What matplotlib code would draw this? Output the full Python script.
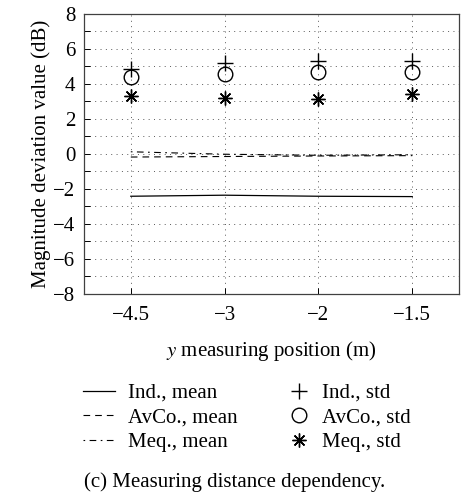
import numpy as np
import matplotlib
matplotlib.use("Agg")
import matplotlib.pyplot as plt

# measuring positions (shown as evenly spaced categories)
pos_labels = ["\u22124.5", "\u22123", "\u22122", "\u22121.5"]
xpos = [1, 2, 3, 4]

ind_mean = [-2.42, -2.36, -2.42, -2.44]
avco_mean = [-0.18, -0.15, -0.12, -0.10]
meq_mean = [0.12, -0.02, -0.08, -0.05]

ind_std = [4.85, 5.17, 5.30, 5.33]
avco_std = [4.40, 4.55, 4.70, 4.70]
meq_std = [3.32, 3.22, 3.13, 3.40]

plt.rcParams['font.family'] = ['Liberation Serif', 'DejaVu Serif']
plt.rcParams['font.size'] = 15
plt.rcParams['axes.unicode_minus'] = True
plt.rcParams['mathtext.fontset'] = 'stix'

fig = plt.figure(figsize=(4.61, 4.94), dpi=100)
ax = fig.add_axes([0.182, 0.405, 0.814, 0.567])

l1, = ax.plot(xpos, ind_mean, color='k', lw=0.9, ls='-')
l2, = ax.plot(xpos, avco_mean, color='k', lw=0.8, ls=(0, (6, 4.5)))
l3, = ax.plot(xpos, meq_mean, color='k', lw=0.8, ls=(0, (1.5, 4, 6, 4)))
m1, = ax.plot(xpos, ind_std, ls='none', marker='+', ms=11, mew=1.0, color='k')
m2, = ax.plot(xpos, avco_std, ls='none', marker='o', ms=10.5, mew=1.0, mfc='none', mec='k')
m3, = ax.plot(xpos, meq_std, ls='none', marker=(8, 2, 0), ms=10, mew=1.0, color='k')

ax.set_xlim(0.5, 4.5)
ax.set_ylim(-8, 8)
ax.set_xticks(xpos)
ax.set_xticklabels(pos_labels)
ax.set_yticks(np.arange(-8, 9, 2))
ax.set_yticks(np.arange(-7, 8, 2), minor=True)
ax.tick_params(which='both', direction='in', length=4, width=0.7)
ax.tick_params(axis='x', pad=9)
ax.tick_params(axis='y', pad=6)
ax.grid(True, which='major', axis='x', color='0.35', ls=(0, (1, 4.5)), lw=0.7)
ax.grid(True, which='both', axis='y', color='0.35', ls=(0, (1, 4.5)), lw=0.7)
for s in ax.spines.values():
    s.set_linewidth(0.9)
    s.set_color('0.25')

ax.set_ylabel('Magnitude deviation value (dB)', labelpad=2)
ax.set_xlabel('$y$ measuring position (m)', labelpad=10)

leg_kw = dict(frameon=False, loc='upper left', handlelength=1.55, handletextpad=0.6,
              labelspacing=0.24, borderaxespad=0, borderpad=0)
fig.legend([l1, l2, l3], ['Ind., mean', 'AvCo., mean', 'Meq., mean'],
           bbox_to_anchor=(0.18, 0.224), **leg_kw)
leg2_kw = dict(leg_kw, handlelength=1.0, handletextpad=0.6)
fig.legend([m1, m2, m3], ['Ind., std', 'AvCo., std', 'Meq., std'],
           bbox_to_anchor=(0.627, 0.224), **leg2_kw)

fig.text(0.51, 0.024, '(c) Measuring distance dependency.', ha='center', va='center')

fig.savefig('out.png', dpi=100)
